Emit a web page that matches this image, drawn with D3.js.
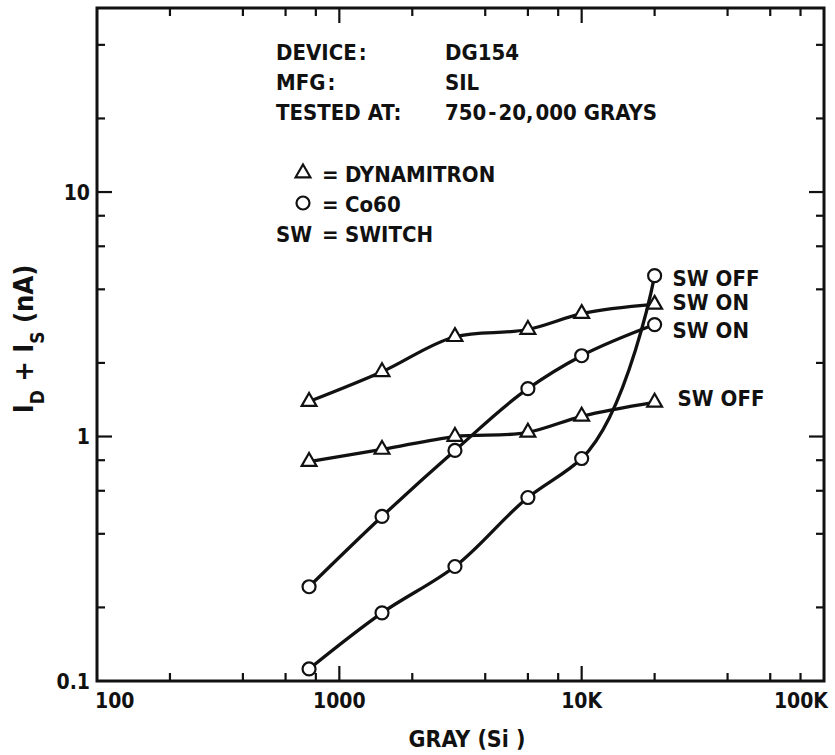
<!DOCTYPE html>
<html>
<head>
<meta charset="utf-8">
<script src="https://cdn.jsdelivr.net/npm/d3@7"></script>
<style>
  html, body { margin: 0; padding: 0; background: #fff; }
  svg { display: block; }
  text { font-family: "DejaVu Sans Condensed", "Liberation Sans Narrow", "DejaVu Sans", sans-serif; fill: #111; }
</style>
</head>
<body>
<svg id="chart" width="835" height="755"></svg>
<script>
// Dose points (Gray, Si) and leakage current I_D + I_S (nA)
const doses = [750, 1500, 3000, 6000, 10000, 20000];
const dynSwOn  = [1.39, 1.84, 2.56, 2.74, 3.18, 3.47];
const dynSwOff = [0.79, 0.885, 1.0, 1.04, 1.21, 1.38];
const coSwOn   = [0.243, 0.471, 0.877, 1.57, 2.14, 2.87];
const coSwOff  = [0.112, 0.19, 0.294, 0.563, 0.813, 4.55];

const xDomain = [100, 100000];
const yDomain = [0.1, 56.6];
const xMajor = [100, 1000, 10000, 100000];
const xMajorLabels = ["100", "1000", "10K", "100K"];
const xMinor = [200, 400, 600, 800, 2000, 4000, 6000, 8000, 20000, 40000, 60000, 80000];
const yMajor = [0.1, 1, 10];
const yMajorLabels = ["0.1", "1", "10"];
const yMinor = [0.2, 0.4, 0.6, 0.8, 2, 4, 6, 8, 20, 40];

const infoLines = [
  ["DEVICE\u200a:", "DG154"],
  ["MFG\u200a:", "SIL"],
  ["TESTED AT:", "750\u200a-\u200a20,\u200a000 GRAYS"]
];

const series = [
  { values: dynSwOn,  marker: "triangle", label: "SW ON",  dx: 18, dy: -2 },
  { values: dynSwOff, marker: "triangle", label: "SW OFF", dx: 23, dy: -4 },
  { values: coSwOn,   marker: "circle",   label: "SW ON",  dx: 18, dy: 5 },
  { values: coSwOff,  marker: "circle",   label: "SW OFF", dx: 18, dy: 2 }
];

const svg = d3.select("#chart");
const plotLeft = 97, plotRight = 824, plotTop = 8, plotBottom = 681;

const x = d3.scaleLog().domain(xDomain).range([plotLeft, plotRight]);
const y = d3.scaleLog().domain(yDomain).range([plotBottom, plotTop]);

// Tick marks on all four sides, pointing inward
const majorLen = 15, minorLen = 8;
const ticks = svg.append("g").attr("stroke", "#111").attr("stroke-width", 2.2);
function xTicks(vals, len) {
  vals.forEach(v => {
    ticks.append("line").attr("x1", x(v)).attr("x2", x(v)).attr("y1", plotBottom).attr("y2", plotBottom - len);
    ticks.append("line").attr("x1", x(v)).attr("x2", x(v)).attr("y1", plotTop).attr("y2", plotTop + len);
  });
}
function yTicks(vals, len) {
  vals.forEach(v => {
    ticks.append("line").attr("y1", y(v)).attr("y2", y(v)).attr("x1", plotLeft).attr("x2", plotLeft + len);
    ticks.append("line").attr("y1", y(v)).attr("y2", y(v)).attr("x1", plotRight).attr("x2", plotRight - len);
  });
}
xTicks(xMinor, minorLen);
xTicks(xMajor.slice(1, -1), majorLen);
yTicks(yMinor, minorLen);
yTicks(yMajor.slice(1), majorLen);

// Frame
svg.append("rect")
  .attr("x", plotLeft).attr("y", plotTop)
  .attr("width", plotRight - plotLeft).attr("height", plotBottom - plotTop)
  .attr("fill", "none").attr("stroke", "#111").attr("stroke-width", 3);

// Axis labels
const tickFont = 21;
svg.append("g").selectAll("text").data(xMajor).join("text")
  .attr("x", (d, i) => i === 0 ? x(d) - 2 : (i === xMajor.length - 1 ? x(d) + 4 : x(d)))
  .attr("y", 708)
  .attr("text-anchor", (d, i) => i === 0 ? "start" : (i === xMajor.length - 1 ? "end" : "middle"))
  .attr("font-size", tickFont)
  .attr("font-weight", "bold")
  .text((d, i) => xMajorLabels[i]);

svg.append("g").selectAll("text").data(yMajor).join("text")
  .attr("x", 90)
  .attr("y", d => y(d))
  .attr("dy", "0.36em")
  .attr("text-anchor", "end")
  .attr("font-size", tickFont)
  .attr("font-weight", "bold")
  .text((d, i) => yMajorLabels[i]);

svg.append("text")
  .attr("x", 467).attr("y", 747)
  .attr("text-anchor", "middle")
  .attr("font-size", 23)
  .attr("font-weight", "bold")
  .text("GRAY (Si )");

const yTitle = svg.append("text")
  .attr("transform", "translate(33,339) rotate(-90)")
  .attr("text-anchor", "middle")
  .attr("font-size", 27)
  .attr("font-weight", "bold");
yTitle.append("tspan").text("I");
yTitle.append("tspan").attr("dy", 11).attr("font-size", 19).text("D");
yTitle.append("tspan").attr("dy", -11).text(" + I");
yTitle.append("tspan").attr("dy", 11).attr("font-size", 19).text("S");
yTitle.append("tspan").attr("dy", -11).text(" (nA)");

// Device information block
const info = svg.append("g").attr("font-size", 22).attr("font-weight", "bold");
infoLines.forEach((row, i) => {
  info.append("text").attr("x", 276).attr("y", 60 + i * 30).text(row[0]);
  info.append("text").attr("x", 445).attr("y", 60 + i * 30).text(row[1]);
});

// Marker drawing helpers
const triPath = d3.symbol(d3.symbolTriangle, 95)();
function drawMarker(g, kind, cx, cy) {
  if (kind === "triangle") {
    g.append("path").attr("d", triPath)
      .attr("transform", `translate(${cx},${cy})`)
      .attr("fill", "#fff").attr("stroke", "#111").attr("stroke-width", 2.2);
  } else {
    g.append("circle").attr("cx", cx).attr("cy", cy).attr("r", 6.5)
      .attr("fill", "#fff").attr("stroke", "#111").attr("stroke-width", 2.2);
  }
}

// Legend
const legend = svg.append("g").attr("font-size", 22).attr("font-weight", "bold");
drawMarker(legend, "triangle", 303, 173);
legend.append("text").attr("x", 322).attr("y", 182).text("=");
legend.append("text").attr("x", 345).attr("y", 182).text("DYNAMITRON");
drawMarker(legend, "circle", 303, 203);
legend.append("text").attr("x", 322).attr("y", 212).text("=");
legend.append("text").attr("x", 345).attr("y", 212).text("Co60");
legend.append("text").attr("x", 276).attr("y", 242).text("SW");
legend.append("text").attr("x", 322).attr("y", 242).text("=");
legend.append("text").attr("x", 345).attr("y", 242).text("SWITCH");

// Smooth curves through the measured points (chordal Catmull-Rom)
const line = d3.line()
  .x((d, i) => x(doses[i]))
  .y(d => y(d))
  .curve(d3.curveCatmullRom.alpha(1));

const plot = svg.append("g");
series.forEach(s => {
  plot.append("path").datum(s.values)
    .attr("d", line)
    .attr("fill", "none").attr("stroke", "#111").attr("stroke-width", 3.3)
    .attr("stroke-linejoin", "round").attr("stroke-linecap", "round");
});
series.forEach(s => {
  const g = plot.append("g");
  s.values.forEach((v, i) => drawMarker(g, s.marker, x(doses[i]), y(v)));
  const last = s.values.length - 1;
  plot.append("text")
    .attr("x", x(doses[last]) + s.dx)
    .attr("y", y(s.values[last]) + s.dy)
    .attr("dy", "0.36em")
    .attr("font-size", 22)
    .attr("font-weight", "bold")
    .text(s.label);
});
</script>
</body>
</html>
